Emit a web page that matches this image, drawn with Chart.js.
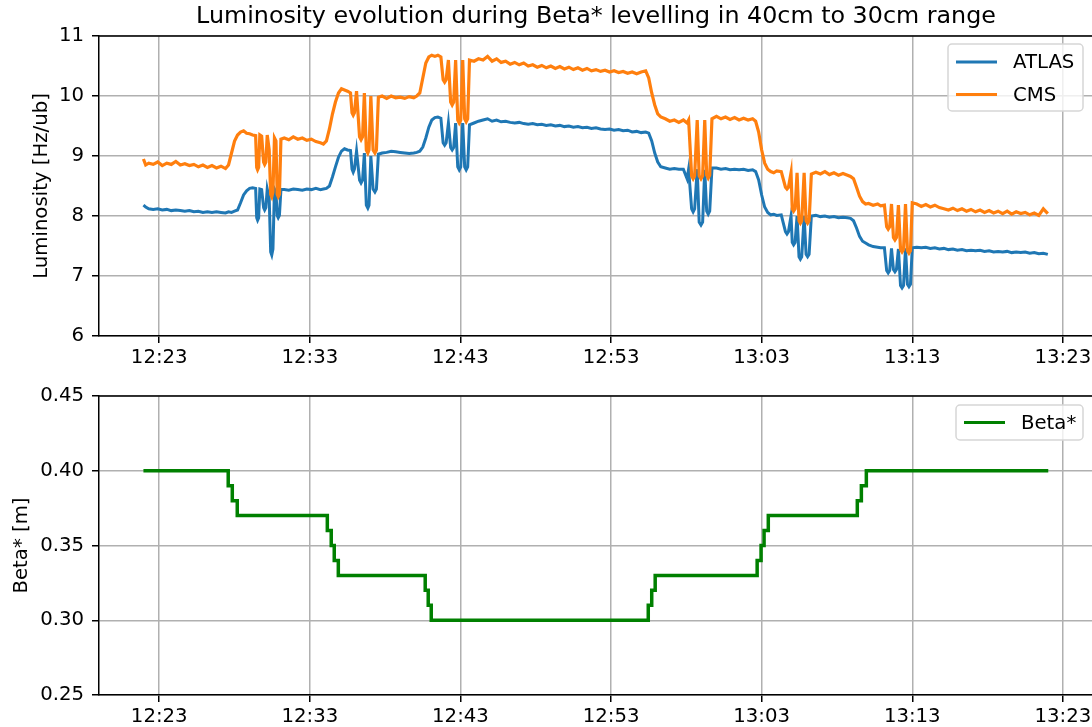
<!DOCTYPE html>
<html>
<head>
<meta charset="utf-8">
<script src="https://cdn.jsdelivr.net/npm/chart.js@4.4.1/dist/chart.umd.min.js"></script>
<style>
  html, body { margin: 0; padding: 0; background: #ffffff; overflow: hidden; }
  #wrap { position: relative; width: 1092px; height: 727px; overflow: hidden; background: #fff; }
  #top { position: absolute; left: 0; top: 0; }
  #bottom { position: absolute; left: 0; top: 360px; }
</style>
</head>
<body>
<div id="wrap">
  <canvas id="top" width="1100" height="380"></canvas>
  <canvas id="bottom" width="1100" height="367"></canvas>
</div>
<script>
// ---------------- DATA (time in minutes after 12:00) ----------------
const titleText = 'Luminosity evolution during Beta* levelling in 40cm to 30cm range';
const tickPositions = [23, 33, 43, 53, 63, 73, 83];
const tickLabels = ['12:23', '12:33', '12:43', '12:53', '13:03', '13:13', '13:23'];

const lumiTime = [
  21.95, 22.1, 22.3, 22.6, 22.9, 23.2, 23.5, 23.8, 24.1, 24.4, 24.7, 25.0, 25.3, 25.6, 25.9, 26.2, 26.5, 26.8, 27.1, 27.4, 27.6,
  27.8, 28.0, 28.2, 28.4, 28.6, 28.8, 29.0, 29.2, 29.4,
  29.47, 29.53, 29.60, 29.68, 29.80, 29.93, 30.00, 30.08, 30.17, 30.30, 30.40, 30.47, 30.55, 30.65, 30.75, 30.83, 30.90, 30.98, 31.08,
  31.3, 31.6, 31.9, 32.2, 32.5, 32.8, 33.1, 33.4, 33.7, 33.9,
  34.1, 34.3, 34.5, 34.7, 34.9, 35.1, 35.3, 35.5, 35.7,
  35.80, 35.88, 35.96, 36.10, 36.30, 36.40, 36.50, 36.62, 36.75, 36.85, 36.93, 37.05, 37.20, 37.32, 37.42, 37.55,
  37.8, 38.1, 38.4, 38.7, 39.0, 39.3, 39.6, 39.9, 40.1,
  40.3, 40.5, 40.7, 40.9, 41.1, 41.3, 41.5, 41.7,
  41.85, 41.95, 42.05, 42.20, 42.35, 42.45, 42.55, 42.68, 42.82, 42.92, 43.02, 43.15, 43.28, 43.38, 43.48, 43.60,
  43.9, 44.2, 44.5, 44.8, 45.1, 45.4, 45.7, 46.0, 46.3, 46.6, 46.9, 47.2, 47.5, 47.8, 48.1, 48.4, 48.7, 49.0, 49.3, 49.6,
  49.9, 50.2, 50.5, 50.8, 51.1, 51.4, 51.7, 52.0, 52.3, 52.6, 52.9, 53.2, 53.5, 53.8, 54.1, 54.4, 54.7, 55.0, 55.3,
  55.5, 55.7, 55.9, 56.1, 56.3, 56.6, 56.9, 57.2, 57.5, 57.8,
  58.05, 58.15, 58.35, 58.45, 58.55, 58.72, 58.85, 58.97, 59.08, 59.22, 59.35, 59.45, 59.55, 59.70,
  60.0, 60.3, 60.6, 60.9, 61.2, 61.5, 61.8, 62.1, 62.4,
  62.6, 62.8, 63.0, 63.2, 63.4, 63.6, 63.8, 64.0, 64.3,
  64.58, 64.68, 64.78, 64.95, 65.03, 65.12, 65.22, 65.35, 65.48, 65.57, 65.66, 65.82, 65.95, 66.05, 66.15, 66.30,
  66.6, 66.9, 67.2, 67.5, 67.8, 68.1, 68.4, 68.7, 68.9,
  69.1, 69.3, 69.5, 69.7, 69.9, 70.1, 70.4, 70.7, 70.9, 71.15,
  71.30, 71.40, 71.50, 71.62, 71.75, 71.85, 71.95, 72.08, 72.22, 72.32, 72.42, 72.55, 72.68, 72.78, 72.88, 73.00,
  73.3, 73.6, 73.9, 74.2, 74.5, 74.8, 75.1, 75.4, 75.7, 76.0,
  76.3, 76.6, 76.9, 77.2, 77.5, 77.8, 78.1, 78.4, 78.7, 79.0,
  79.3, 79.6, 79.9, 80.2, 80.5, 80.8, 81.1, 81.4, 81.7, 82.0
];

const atlasLumi = [
  8.18, 8.15, 8.12, 8.11, 8.12, 8.10, 8.11, 8.09, 8.10, 8.09, 8.08, 8.09, 8.07, 8.08, 8.06, 8.07, 8.06, 8.07, 8.06, 8.05, 8.07,
  8.06, 8.08, 8.10, 8.22, 8.35, 8.42, 8.46, 8.47, 8.46,
  7.97, 7.93, 7.97, 8.45, 8.44, 8.14, 8.10, 8.14, 8.45, 8.30, 7.40, 7.35, 7.45, 8.45, 8.40, 8.01, 7.97, 8.01, 8.44,
  8.44, 8.43, 8.45, 8.44, 8.43, 8.45, 8.44, 8.46, 8.44, 8.45,
  8.46, 8.50, 8.65, 8.82, 8.98, 9.08, 9.12, 9.10, 9.09,
  8.78, 8.73, 8.78, 9.08, 8.60, 8.55, 8.60, 9.05, 8.18, 8.13, 8.18, 9.00, 8.45, 8.40, 8.45, 9.03,
  9.05, 9.06, 9.08, 9.07, 9.06, 9.05, 9.04, 9.05, 9.06,
  9.08, 9.15, 9.30, 9.48, 9.60, 9.64, 9.65, 9.63,
  9.22, 9.18, 9.22, 9.55, 9.14, 9.10, 9.14, 9.55, 8.82, 8.77, 8.82, 9.55, 8.82, 8.77, 8.82, 9.52,
  9.55, 9.58, 9.60, 9.62, 9.58, 9.60, 9.57, 9.58, 9.56, 9.55, 9.56, 9.54, 9.53, 9.54, 9.52, 9.53, 9.51, 9.52, 9.50, 9.51,
  9.49, 9.50, 9.48, 9.49, 9.47, 9.48, 9.46, 9.47, 9.45, 9.44, 9.45, 9.43, 9.44, 9.42, 9.43, 9.40, 9.41, 9.39, 9.40,
  9.38, 9.25, 9.05, 8.90, 8.82, 8.80, 8.78, 8.79, 8.78, 8.78,
  8.62, 8.78, 8.12, 8.07, 8.12, 8.78, 7.90, 7.85, 7.90, 8.77, 8.08, 8.03, 8.08, 8.80,
  8.80, 8.78, 8.79, 8.77, 8.78, 8.77, 8.78, 8.76, 8.77,
  8.74, 8.60, 8.35, 8.15, 8.06, 8.02, 8.03, 8.01, 8.02,
  7.74, 7.70, 7.74, 8.00, 7.56, 7.52, 7.56, 8.00, 7.32, 7.28, 7.32, 8.00, 7.36, 7.32, 7.36, 8.00,
  8.01, 7.99, 8.00, 7.98, 7.99, 7.97, 7.98, 7.97, 7.96,
  7.92, 7.80, 7.66, 7.58, 7.55, 7.52, 7.49, 7.48, 7.47, 7.47,
  7.09, 7.05, 7.09, 7.46, 7.11, 7.07, 7.11, 7.45, 6.84, 6.80, 6.84, 7.46, 6.86, 6.82, 6.86, 7.47,
  7.48, 7.47, 7.48, 7.46, 7.47, 7.45, 7.46, 7.44, 7.45, 7.43,
  7.44, 7.42, 7.43, 7.42, 7.43, 7.41, 7.42, 7.40, 7.41, 7.40,
  7.41, 7.39, 7.40, 7.39, 7.40, 7.38, 7.39, 7.37, 7.38, 7.36
];

const cmsLumi = [
  8.95, 8.85, 8.88, 8.86, 8.90, 8.84, 8.88, 8.86, 8.91, 8.85, 8.87, 8.84, 8.86, 8.82, 8.85, 8.81, 8.84, 8.80, 8.83, 8.79, 8.85,
  9.05, 9.25, 9.35, 9.40, 9.42, 9.38, 9.37, 9.35, 9.34,
  8.81, 8.77, 8.81, 9.35, 9.33, 8.90, 8.86, 8.90, 9.35, 9.10, 8.36, 8.32, 8.40, 9.30, 9.25, 8.36, 8.32, 8.36, 9.28,
  9.30, 9.27, 9.32, 9.28, 9.30, 9.26, 9.28, 9.24, 9.22, 9.20,
  9.25, 9.45, 9.70, 9.90, 10.05, 10.12, 10.10, 10.08, 10.05,
  9.72, 9.68, 9.72, 10.08, 9.32, 9.27, 9.32, 10.05, 9.10, 9.05, 9.10, 10.00, 9.10, 9.05, 9.10, 9.98,
  10.00, 9.96, 10.00, 9.97, 9.98, 9.96, 9.99, 9.97, 10.00,
  10.05, 10.30, 10.55, 10.65, 10.68, 10.66, 10.68, 10.65,
  10.27, 10.23, 10.27, 10.60, 9.90, 9.85, 9.90, 10.60, 9.60, 9.55, 9.60, 10.60, 9.62, 9.57, 9.62, 10.60,
  10.58, 10.62, 10.60, 10.66, 10.58, 10.62, 10.56, 10.58, 10.53, 10.56, 10.52, 10.55, 10.50, 10.52, 10.48, 10.51, 10.47, 10.50, 10.46, 10.49,
  10.45, 10.48, 10.44, 10.47, 10.43, 10.46, 10.42, 10.44, 10.41, 10.43, 10.40, 10.42, 10.39, 10.41, 10.38, 10.40, 10.37, 10.40, 10.42,
  10.30, 10.05, 9.85, 9.70, 9.65, 9.62, 9.58, 9.60, 9.56, 9.60,
  9.55, 9.60, 8.67, 8.62, 8.67, 9.60, 8.67, 8.62, 8.67, 9.60, 8.68, 8.63, 8.68, 9.62,
  9.66, 9.62, 9.65, 9.61, 9.64, 9.60, 9.63, 9.60, 9.62,
  9.58, 9.40, 9.10, 8.88, 8.78, 8.74, 8.72, 8.75, 8.74,
  8.48, 8.45, 8.48, 8.72, 8.12, 8.08, 8.12, 8.72, 7.92, 7.88, 7.92, 8.72, 7.92, 7.88, 7.92, 8.70,
  8.73, 8.70, 8.74, 8.69, 8.72, 8.68, 8.71, 8.68, 8.66,
  8.62, 8.48, 8.33, 8.24, 8.20, 8.21, 8.18, 8.20, 8.17, 8.18,
  7.82, 7.78, 7.82, 8.20, 7.64, 7.60, 7.64, 8.18, 7.44, 7.40, 7.44, 8.20, 7.42, 7.38, 7.42, 8.22,
  8.20, 8.16, 8.19, 8.15, 8.18, 8.14, 8.12, 8.10, 8.13, 8.09,
  8.12, 8.08, 8.11, 8.07, 8.10, 8.06, 8.09, 8.05, 8.08, 8.04,
  8.08, 8.03, 8.07, 8.04, 8.06, 8.02, 8.05, 8.01, 8.12, 8.04
];

const betaTime = [21.95, 27.58, 27.85, 28.18, 34.16, 34.42, 34.62, 34.89, 40.66, 40.86, 41.06,
                  55.47, 55.70, 55.93, 62.70, 62.96, 63.16, 63.44, 69.35, 69.62, 69.95, 82.03];
const betaStar = [0.40, 0.39, 0.38, 0.37, 0.36, 0.35, 0.34, 0.33, 0.32, 0.31, 0.30,
                  0.31, 0.32, 0.33, 0.34, 0.35, 0.36, 0.37, 0.38, 0.39, 0.40, 0.40];

// ---------------- RENDERING ----------------
const FONT = '"DejaVu Sans", "Liberation Sans", sans-serif';
const FS = 19.7;
const X_MIN = 19, X_MAX = 85;

const pts = (xs, ys) => xs.map((x, i) => ({ x: x, y: ys[i] }));

const mplLegend = {
  id: 'mplLegend',
  afterDatasetsDraw(chart, args, o) {
    if (!o || !o.show) return;
    const { ctx, chartArea } = chart;
    const items = chart.data.datasets.map(d => ({ label: d.label, color: d.borderColor }));
    const x = chartArea.right - o.right - o.width;
    const y = chartArea.top + o.top;
    ctx.save();
    ctx.beginPath();
    if (ctx.roundRect) ctx.roundRect(x, y, o.width, o.height, 4); else ctx.rect(x, y, o.width, o.height);
    ctx.fillStyle = 'rgba(255,255,255,0.8)';
    ctx.fill();
    ctx.strokeStyle = '#d6d6d6';
    ctx.lineWidth = 1.5;
    ctx.stroke();
    items.forEach((it, i) => {
      const cy = y + o.first + i * o.row;
      ctx.strokeStyle = it.color;
      ctx.lineWidth = 3;
      ctx.beginPath();
      ctx.moveTo(x + 8, cy);
      ctx.lineTo(x + 49, cy);
      ctx.stroke();
      ctx.fillStyle = '#000';
      ctx.font = FS + 'px ' + FONT;
      ctx.textBaseline = 'middle';
      ctx.textAlign = 'left';
      ctx.fillText(it.label, x + 65, cy + 1);
    });
    ctx.restore();
  }
};

const frame = {
  id: 'frame',
  afterDraw(chart) {
    const { ctx, chartArea: a } = chart;
    ctx.save();
    ctx.strokeStyle = '#000';
    ctx.lineWidth = 1.5;
    ctx.beginPath();
    ctx.moveTo(a.left, a.top);
    ctx.lineTo(a.right, a.top);
    ctx.lineTo(a.right, a.bottom);
    ctx.stroke();
    ctx.restore();
  }
};

function xScale(axisHeight) {
  return {
    type: 'linear',
    min: X_MIN, max: X_MAX,
    afterBuildTicks: s => { s.ticks = tickPositions.map(v => ({ value: v })); },
    afterFit: s => { s.height = axisHeight; },
    ticks: {
      autoSkip: false, maxRotation: 0, padding: 3,
      color: '#000', font: { family: FONT, size: FS },
      callback: (v) => { const i = tickPositions.indexOf(v); return i >= 0 ? tickLabels[i] : ''; }
    },
    grid: { color: '#b0b0b0', lineWidth: 1.5, tickLength: 7, tickColor: '#000', tickWidth: 1.5 },
    border: { display: true, color: '#000', width: 1.5 }
  };
}

function yScale(min, max, step, label, titlePad, fmt) {
  return {
    type: 'linear',
    min: min, max: max,
    afterFit: s => { s.width = 99; },
    ticks: {
      stepSize: step, padding: 8, color: '#000',
      font: { family: FONT, size: FS },
      callback: fmt
    },
    title: {
      display: true, text: label, color: '#000',
      font: { family: FONT, size: FS, lineHeight: 1.2 },
      padding: { top: titlePad, bottom: 0 }
    },
    grid: { color: '#b0b0b0', lineWidth: 1.5, tickLength: 7, tickColor: '#000', tickWidth: 1.5 },
    border: { display: true, color: '#000', width: 1.5 }
  };
}

new Chart(document.getElementById('top'), {
  type: 'line',
  data: {
    datasets: [
      { label: 'ATLAS', data: pts(lumiTime, atlasLumi), borderColor: '#1f77b4', borderWidth: 3,
        pointRadius: 0, tension: 0, order: 1 },
      { label: 'CMS', data: pts(lumiTime, cmsLumi), borderColor: '#ff7f0e', borderWidth: 3.2,
        pointRadius: 0, tension: 0, order: 0 }
    ]
  },
  options: {
    responsive: false, animation: false, devicePixelRatio: 1,
    layout: { padding: { left: 0, right: 7, top: 0, bottom: 0 } },
    plugins: {
      legend: { display: false },
      tooltip: { enabled: false },
      title: {
        display: true, text: titleText, color: '#000', fullSize: false,
        font: { family: FONT, size: 23.8, weight: 'normal', lineHeight: 1.2 },
        padding: { top: 3, bottom: 4.44 }
      },
      mplLegend: { show: true, right: 10, top: 8, width: 135, height: 67, first: 18, row: 32.5 }
    },
    scales: {
      x: xScale(44),
      y: yScale(6, 11, 1, 'Luminosity [Hz/ub]', 30, v => String(v))
    }
  },
  plugins: [mplLegend, frame]
});

new Chart(document.getElementById('bottom'), {
  type: 'line',
  data: {
    datasets: [
      { label: 'Beta*', data: pts(betaTime, betaStar), borderColor: '#008000', borderWidth: 3.5,
        pointRadius: 0, stepped: 'before', tension: 0 }
    ]
  },
  options: {
    responsive: false, animation: false, devicePixelRatio: 1,
    layout: { padding: { left: 0, right: 7, top: 36, bottom: 0 } },
    plugins: {
      legend: { display: false },
      tooltip: { enabled: false },
      title: { display: false },
      mplLegend: { show: true, right: 10, top: 9, width: 127, height: 35, first: 17.5, row: 32.5 }
    },
    scales: {
      x: xScale(32),
      y: yScale(0.25, 0.45, 0.05, 'Beta* [m]', 10, v => Number(v).toFixed(2))
    }
  },
  plugins: [mplLegend, frame]
});
</script>
</body>
</html>
